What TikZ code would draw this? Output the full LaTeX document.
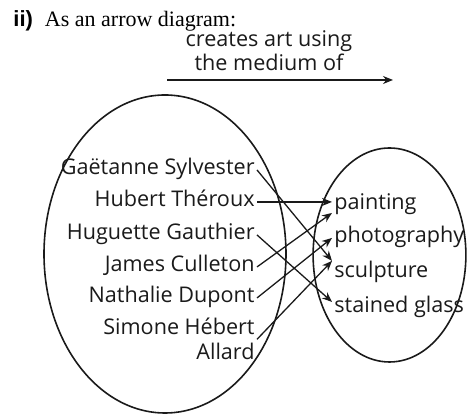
\documentclass[tikz,border=0pt]{standalone}
\usepackage{fontspec}
\setmainfont{Liberation Serif}
\newfontfamily\diagfont{Open Sans}
\newfontfamily\headfont{Liberation Sans}
\usetikzlibrary{positioning, arrows.meta, calc}
\definecolor{cInk}{HTML}{1A1A1A}

\tikzset{
  artist/.style={anchor=base east, inner sep=1pt, text=cInk,
    font=\diagfont\fontsize{10.8}{12.5}\selectfont},
  medium/.style={anchor=base west, inner sep=1pt, text=cInk,
    font=\diagfont\fontsize{10.8}{12.5}\selectfont},
  fixedBox/.style={text height=1.6ex, text depth=0.5ex},
  setLoop/.style={draw=cInk, line width=0.8pt},
  relArrow/.style={draw=cInk, line width=0.65pt,
    -{Stealth[length=5pt, width=4pt]}},
}

\begin{document}
\begin{tikzpicture}[x=0.5pt, y=-0.5pt]
  \useasboundingbox (0,0) rectangle (467,415);

  % heading
  \node[anchor=base west, inner sep=0pt, font=\fontsize{11}{13}\selectfont] (title) at (13,27)
    {{\headfont\bfseries ii)}\hspace{6pt}As an arrow diagram:};

  % relation label and its arrow
  \node[inner sep=0pt, align=center, text=cInk,
        font=\diagfont\fontsize{10.8}{12}\selectfont] (rel) at (269,51)
    {creates art using\\the medium of};
  \coordinate (relL) at (167,80);
  \coordinate (relR) at (393,80);
  \draw[relArrow] (relL) -- (relR);

  % the two sets
  \draw[setLoop] (165,254) ellipse [x radius=60.5pt, y radius=79.5pt];
  \draw[setLoop] (389.5,255) ellipse [x radius=38.2pt, y radius=53.5pt];

  % artists
  \foreach \nm/\txt/\yy in {gae/Gaëtanne Sylvester/175, hub/Hubert Théroux/207,
                            hug/Huguette Gauthier/240, jam/James Culleton/272,
                            nat/Nathalie Dupont/303}
    \node[artist, fixedBox] (\nm) at (257,\yy) {\txt};
  \node[artist, align=right] (sim) at (257,360) {Simone Hébert\\Allard};

  % mediums
  \foreach \nm/\txt/\yy in {pai/painting/210, pho/photography/243,
                            scu/sculpture/278, sta/stained glass/313}
    \node[medium, fixedBox] (\nm) at (332,\yy) {\txt};

  % who uses what
  \draw[relArrow] (hub.east) -- (hub.east -| pai.west);
  \draw[relArrow] (jam.east) -- ($(pai.west)+(0,8)$);
  \draw[relArrow] (nat.east) -- (pho.west);
  \draw[relArrow] (gae.east) -- (scu.north west);
  \draw[relArrow] (sim.east) -- (scu.north west);
  \draw[relArrow] (hug.east) -- ($(sta.west)+(0,-6)$);
\end{tikzpicture}
\end{document}
